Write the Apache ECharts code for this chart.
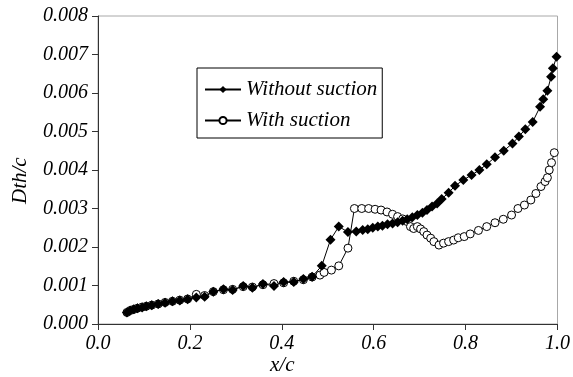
<!DOCTYPE html>
<html>
<head>
<meta charset="utf-8">
<script src="https://cdn.jsdelivr.net/npm/echarts@6/dist/echarts.min.js"></script>
<style>html,body{margin:0;padding:0;background:#fff}#c{width:573px;height:377px}</style>
</head>
<body>
<div id="c"></div>
<script>
var xTicks = ['0.0','0.2','0.4','0.6','0.8','1.0'];
var yTicks = ['0.000','0.001','0.002','0.003','0.004','0.005','0.006','0.007','0.008'];
var xTitle = 'x/c';
var yTitle = 'Dth/c';

var withoutX = [0.063,0.070,0.078,0.086,0.096,0.105,0.117,0.131,0.146,0.162,0.178,0.195,0.214,0.232,0.251,0.273,0.293,0.316,0.336,0.359,0.383,0.404,0.426,0.447,0.466,0.487,0.506,0.524,0.544,0.562,0.576,0.587,0.598,0.609,0.619,0.630,0.641,0.652,0.663,0.673,0.684,0.695,0.706,0.716,0.727,0.738,0.748,0.763,0.777,0.795,0.813,0.830,0.846,0.864,0.883,0.902,0.916,0.930,0.946,0.962,0.969,0.978,0.986,0.990,0.998];
var withoutY = [0.00030,0.00035,0.00038,0.00041,0.00043,0.00046,0.00049,0.00052,0.00055,0.00059,0.00061,0.00064,0.00069,0.00071,0.00084,0.00090,0.00088,0.00099,0.00094,0.00104,0.00099,0.00109,0.00109,0.00117,0.00123,0.00151,0.00219,0.00253,0.00239,0.00240,0.00244,0.00246,0.00250,0.00253,0.00255,0.00259,0.00261,0.00264,0.00268,0.00272,0.00277,0.00283,0.00289,0.00296,0.00305,0.00313,0.00325,0.00341,0.00359,0.00374,0.00387,0.00400,0.00415,0.00433,0.00450,0.00469,0.00487,0.00506,0.00525,0.00564,0.00584,0.00606,0.00642,0.00664,0.00694];

var withX = [0.063,0.070,0.078,0.086,0.096,0.105,0.117,0.131,0.146,0.162,0.178,0.195,0.214,0.232,0.251,0.273,0.293,0.316,0.336,0.359,0.383,0.404,0.426,0.447,0.466,0.483,0.492,0.508,0.524,0.544,0.558,0.574,0.589,0.603,0.616,0.629,0.641,0.652,0.663,0.673,0.680,0.687,0.695,0.702,0.709,0.716,0.724,0.731,0.742,0.752,0.763,0.774,0.784,0.797,0.810,0.828,0.846,0.864,0.882,0.900,0.914,0.928,0.942,0.953,0.964,0.973,0.978,0.982,0.987,0.993];
var withY = [0.00030,0.00035,0.00038,0.00041,0.00044,0.00046,0.00049,0.00052,0.00056,0.00059,0.00062,0.00065,0.00077,0.00074,0.00084,0.00089,0.00090,0.00097,0.00096,0.00102,0.00105,0.00107,0.00111,0.00115,0.00122,0.00127,0.00134,0.00140,0.00151,0.00197,0.00300,0.00300,0.00300,0.00298,0.00296,0.00291,0.00285,0.00279,0.00273,0.00266,0.00253,0.00248,0.00253,0.00247,0.00240,0.00231,0.00223,0.00214,0.00205,0.00210,0.00214,0.00218,0.00224,0.00227,0.00234,0.00243,0.00253,0.00263,0.00272,0.00283,0.00300,0.00309,0.00322,0.00339,0.00357,0.00370,0.00380,0.00400,0.00419,0.00445];

function pairs(xs, ys){ var o=[]; for(var i=0;i<xs.length;i++) o.push([xs[i], ys[i]]); return o; }

var FONT = 'Liberation Serif';
var chart = echarts.init(document.getElementById('c'), null, {renderer:'canvas'});
chart.setOption({
  animation:false,
  backgroundColor:'#fff',
  grid:{left:98,right:11,top:16,bottom:53,show:true,borderColor:'#a8a8a8',borderWidth:1,backgroundColor:'transparent'},
  legend:{
    orient:'vertical', left:197, top:68,
    data:['Without suction','With suction'],
    borderColor:'#000', borderWidth:1, padding:[11,5,7,7],
    itemWidth:36, itemHeight:9, itemGap:10,
    textStyle:{fontFamily:FONT, fontStyle:'italic', fontSize:21, color:'#000'}
  },
  graphic:[
    {type:'text', left:270, top:355, style:{text:xTitle, font:'italic 21px "Liberation Serif"', fill:'#000'}},
    {type:'text', x:10, y:204, rotation:Math.PI/2, style:{text:yTitle, font:'italic 21px "Liberation Serif"', fill:'#000'}}
  ],
  xAxis:{
    type:'value', min:0, max:1, interval:0.2,
    axisLine:{lineStyle:{color:'#333',width:1}},
    axisTick:{show:true,inside:false,length:6,lineStyle:{color:'#333'}},
    axisLabel:{fontFamily:FONT, fontStyle:'italic', fontSize:20, color:'#000', margin:10,
      formatter:function(v){ var i=Math.round(v/0.2); return xTicks[i]; }},
    splitLine:{show:false}
  },
  yAxis:{
    type:'value', min:0, max:0.008, interval:0.001,
    axisLine:{show:true,lineStyle:{color:'#333',width:1}},
    axisTick:{show:true,inside:false,length:6,lineStyle:{color:'#333'}},
    axisLabel:{fontFamily:FONT, fontStyle:'italic', fontSize:20, color:'#000', margin:10,
      formatter:function(v){ var i=Math.round(v/0.001); return yTicks[i]; }},
    splitLine:{show:false}
  },
  series:[
    {
      name:'With suction', type:'line', data:pairs(withX, withY),
      symbol:'circle', symbolSize:8,
      lineStyle:{color:'#000',width:1},
      itemStyle:{color:'#fff',borderColor:'#000',borderWidth:1},
      z:2
    },
    {
      name:'Without suction', type:'line', data:pairs(withoutX, withoutY),
      symbol:'diamond', symbolSize:10,
      lineStyle:{color:'#000',width:1},
      itemStyle:{color:'#000',borderColor:'#000',borderWidth:0},
      z:3
    }
  ]
});
</script>
</body>
</html>
